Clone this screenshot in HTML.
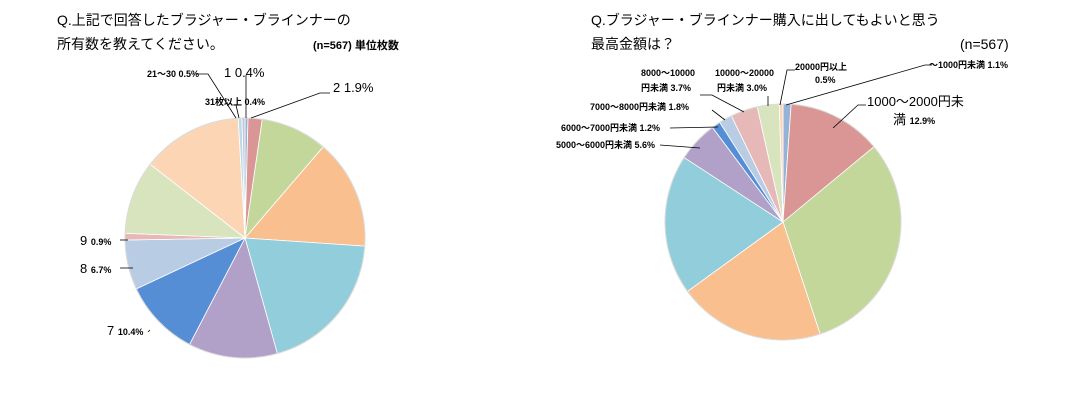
<!DOCTYPE html>
<html><head><meta charset="utf-8"><style>
body{margin:0;background:#fff}
svg text{font-family:"Liberation Sans","Noto Sans CJK JP",sans-serif;fill:#000}
.t{font-size:14px}.s{font-size:9px;font-weight:bold}.m{font-size:13px}
</style></head><body>
<svg width="1073" height="402" viewBox="0 0 1073 402">
<g>
<text class="t" x="57" y="25">Q.上記で回答したブラジャー・ブラインナーの</text>
<text class="t" x="57" y="49">所有数を教えてください。</text>
<text class="s" x="313" y="49" style="font-size:11px">(n=567) 単位枚数</text>
</g>
<g>
<text class="t" x="591" y="25">Q.ブラジャー・ブラインナー購入に出してもよいと思う</text>
<text class="t" x="591" y="49">最高金額は？</text>
<text class="t" x="960" y="49">(n=567)</text>
</g>
<g id="pieL"></g>
<g id="pieR"></g>
<g stroke="#000" stroke-width="0.8" fill="none">
<polyline points="246,118 246,75"/>
<polyline points="239,118 236,105"/>
<polyline points="236,118 208,74 196,74"/>
<polyline points="251,118 320,93 330,93"/>
<polyline points="128,240 120,240"/>
<polyline points="133,268 120,268"/>
<polyline points="150,330 148,332"/>
</g>
<g>
<text class="m" x="224" y="77">1 0.4%</text>
<text class="s" x="147" y="77">21～30 0.5%</text>
<text class="s" x="205" y="105">31枚以上 0.4%</text>
<text class="m" x="333" y="92">2 1.9%</text>
<text class="m" x="80" y="245">9 <tspan class="s">0.9%</tspan></text>
<text class="m" x="80" y="273">8 <tspan class="s">6.7%</tspan></text>
<text class="m" x="107" y="335">7 <tspan class="s">10.4%</tspan></text>
</g>
<g stroke="#000" stroke-width="0.8" fill="none">
<polyline points="786,105 925,65 932,65"/>
<polyline points="780,105 787,70 795,70"/>
<polyline points="768,106 768,96"/>
<polyline points="744,112 712,95 700,95"/>
<polyline points="725,120 712,110"/>
<polyline points="718,127 670,128"/>
<polyline points="700,148 660,145"/>
<polyline points="833,128 858,105 866,105"/>
</g>
<g>
<text class="s" x="929" y="68">～1000円未満 1.1%</text>
<text class="s" x="795" y="70">20000円以上</text>
<text class="s" x="815" y="83">0.5%</text>
<text class="s" x="715" y="76">10000～20000</text>
<text class="s" x="717" y="91">円未満 3.0%</text>
<text class="s" x="641" y="76">8000～10000</text>
<text class="s" x="641" y="91">円未満 3.7%</text>
<text class="s" x="590" y="110">7000～8000円未満 1.8%</text>
<text class="s" x="561" y="131">6000～7000円未満 1.2%</text>
<text class="s" x="556" y="148">5000～6000円未満 5.6%</text>
<text class="m" x="867" y="106">1000～2000円未</text>
<text class="m" x="893" y="124">満 <tspan class="s">12.9%</tspan></text>
</g>
<script>
const leftCats=["1","2","3","4","5","6","7","8","9","10","11～20","21～30","31枚以上"];
const leftVals=[0.4,1.9,9.0,14.8,19.6,12.0,10.4,6.7,0.9,9.9,13.6,0.5,0.4];
const leftCols=["#95b3d7","#da9694","#c4d79b","#fabf8f","#92cddc","#b1a0c7","#558ed5","#b8cce4","#e6b9b8","#d7e4bd","#fcd5b5","#b7dde8","#ccc1da"];
const rightCats=["～1000円未満","1000～2000円未満","2000～3000円未満","3000～4000円未満","4000～5000円未満","5000～6000円未満","6000～7000円未満","7000～8000円未満","8000～10000円未満","10000～20000円未満","20000円以上"];
const rightVals=[1.1,12.9,30.9,20.1,19.2,5.6,1.2,1.8,3.7,3.0,0.5];
const rightCols=["#95b3d7","#da9694","#c4d79b","#fabf8f","#92cddc","#b1a0c7","#558ed5","#b8cce4","#e6b9b8","#d7e4bd","#fcd5b5"];
const NS="http://www.w3.org/2000/svg";
function pie(gid,cx,cy,r,vals,cols,cats,inside){
 const g=document.getElementById(gid);
 const tot=vals.reduce((a,b)=>a+b,0);let acc=0;
 vals.forEach((v,i)=>{
  const a0=acc/tot*2*Math.PI;acc+=v;const a1=acc/tot*2*Math.PI;
  const x0=cx+r*Math.sin(a0),y0=cy-r*Math.cos(a0),x1=cx+r*Math.sin(a1),y1=cy-r*Math.cos(a1);
  const p=document.createElementNS(NS,"path");
  p.setAttribute("d",`M${cx},${cy}L${x0},${y0}A${r},${r} 0 ${a1-a0>Math.PI?1:0} 1 ${x1},${y1}Z`);
  p.setAttribute("fill",cols[i]);p.setAttribute("stroke","#fff");p.setAttribute("stroke-width","0.8");
  
  
  g.appendChild(p);
  const lab=inside[i];
  if(lab){const am=(a0+a1)/2,rr=r*lab.f;
   const lx=cx+rr*Math.sin(am),ly=cy-rr*Math.cos(am);
   lab.lines.forEach((ln,k)=>{const t=document.createElementNS(NS,"text");
    t.setAttribute("x",lx);t.setAttribute("y",ly+(k-(lab.lines.length-1)/2)*18+5);
    t.setAttribute("text-anchor","middle");t.innerHTML=ln;
    
    
    g.appendChild(t);});}
 });
 const c=document.createElementNS(NS,"circle");c.setAttribute("cx",cx);c.setAttribute("cy",cy);c.setAttribute("r",r);
 c.setAttribute("fill","none");c.setAttribute("stroke","#d9d9d9");
 
 
 g.appendChild(c);
}
const pv=v=>' <tspan class="s">'+v.toFixed(1)+'%</tspan>';
const L=leftVals, R=rightVals;
pie("pieL",245,238,120,L,leftCols,leftCats,[null,null,
 {f:0.65,lines:['<tspan class="m">3</tspan>'+pv(L[2])]},
 {f:0.7,lines:['<tspan class="m">4</tspan>'+pv(L[3])]},
 {f:0.65,lines:['<tspan class="m">5</tspan>'+pv(L[4])]},
 {f:0.7,lines:['<tspan class="m">6</tspan>'+pv(L[5])]},
 null,null,null,
 {f:0.7,lines:['<tspan class="m">10</tspan>'+pv(L[9])]},
 {f:0.65,lines:['<tspan class="m" style="font-size:15px">11～20</tspan>','<tspan class="s">'+L[10].toFixed(1)+'%</tspan>']},
 null,null]);
pie("pieR",783,222,118,R,rightCols,rightCats,[null,null,
 {f:0.6,lines:['<tspan class="t">2000～3000円</tspan>','<tspan class="t">未満</tspan>'+pv(R[2])]},
 {f:0.6,lines:['<tspan class="t">3000～4000円</tspan>','<tspan class="t">未満</tspan>'+pv(R[3])]},
 {f:0.72,lines:['<tspan class="t">4000～</tspan>','<tspan class="t">5000円未</tspan>','<tspan class="t">満</tspan>'+pv(R[4])]},
 null,null,null,null,null,null]);
</script>
</svg>
</body></html>
